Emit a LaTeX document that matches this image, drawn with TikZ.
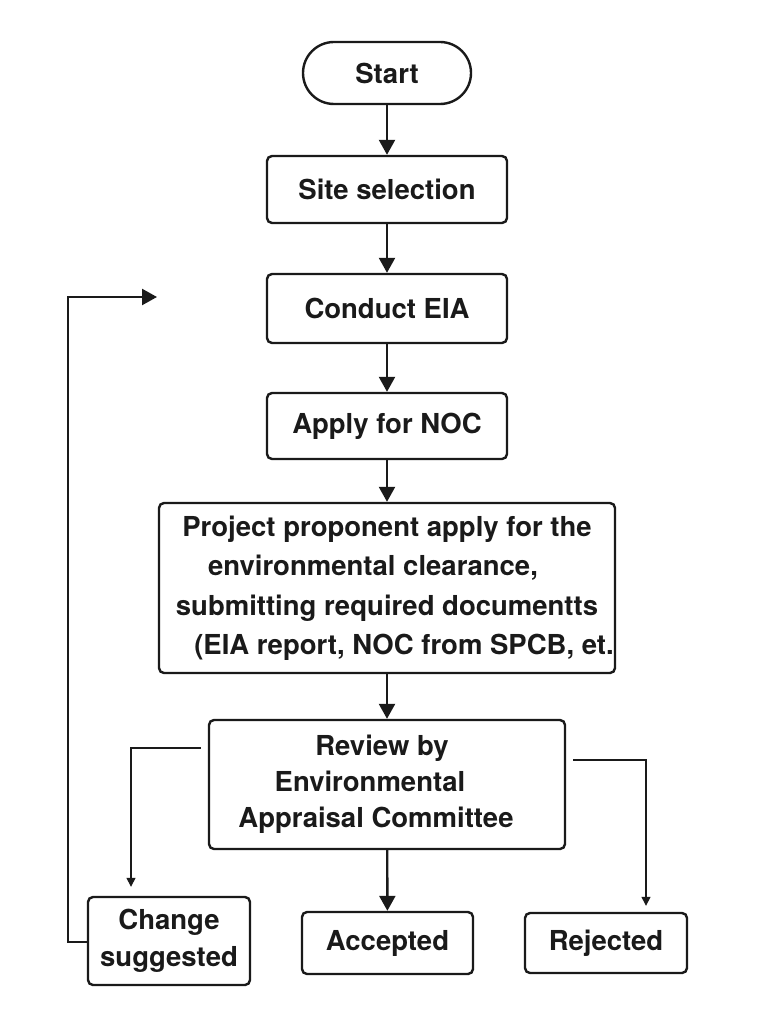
\documentclass[tikz,border=0pt]{standalone}
\usepackage{fontspec}
\setmainfont{TeX Gyre Heros}
\usetikzlibrary{arrows.meta}
\definecolor{ink}{HTML}{1A1A1A}
\begin{document}
\begin{tikzpicture}[x=1pt,y=-1pt,
  box/.style={draw=ink, line width=2.4pt, rounded corners=5pt, text=ink,
    font=\fontsize{27.5}{37}\selectfont\bfseries, align=center, inner sep=0pt},
  mainarrow/.style={draw=ink, line width=2.4pt, -{Triangle[length=15pt,width=16pt]}},
  thinarrow/.style={draw=ink, line width=1.4pt, -{Triangle[length=9pt,width=9pt]}},
  mainline/.style={draw=ink, line width=2.4pt}
]
\useasboundingbox (0,0) rectangle (775,1024);
\fill[white] (0,0) rectangle (775,1024);

\node[box, rounded corners=31pt, minimum width=168pt, minimum height=62pt] (start) at (387,73) {Start};
\node[box, minimum width=240pt, minimum height=67pt] (site) at (387,189.5) {Site selection};
\node[box, minimum width=240pt, minimum height=69pt] (eia) at (387,308.5) {Conduct EIA};
\node[box, minimum width=240pt, minimum height=66pt] (noc) at (387,426) {Apply for NOC};
\node[box, minimum width=456pt, minimum height=170pt, font=\fontsize{27.5}{39.5}\selectfont\bfseries] (proj) at (387,588)
  {Project proponent apply for the\\environmental clearance,\hspace*{28pt}\mbox{}\\submitting required documentts\\\hspace*{34pt}(EIA report, NOC from SPCB, et.};
\node[box, minimum width=356pt, minimum height=129pt, font=\fontsize{27.5}{36}\selectfont\bfseries] (review) at (387,784.5)
  {Review by\hspace*{10pt}\mbox{}\\Environmental\hspace*{34pt}\mbox{}\\Appraisal Committee\hspace*{22pt}\mbox{}};
\node[box, minimum width=162pt, minimum height=88pt, font=\fontsize{27.5}{37}\selectfont\bfseries] (change) at (169,941) {Change\\suggested};
\node[box, minimum width=171pt, minimum height=62pt] (acc) at (387.5,943) {Accepted};
\node[box, minimum width=162pt, minimum height=60pt] (rej) at (606,943) {Rejected};

\draw[mainarrow] (start) -- (site);
\draw[mainarrow] (site) -- (eia);
\draw[mainarrow] (eia) -- (noc);
\draw[mainarrow] (noc) -- (proj);
\draw[mainarrow] (proj) -- (review);
\draw[mainarrow] (review) -- (acc);

\draw[thinarrow, shorten <=7pt, shorten >=9pt] (review.west |- 0,748) -| (change.north -| 131,0);
\draw[thinarrow, shorten <=7pt, shorten >=6pt] (review.east |- 0,760) -| (rej.north -| 646,0);

\coordinate (fb) at (157,297);
\draw[mainarrow] (change.west |- 0,942) -- (68,942) |- (fb);
\end{tikzpicture}
\end{document}
